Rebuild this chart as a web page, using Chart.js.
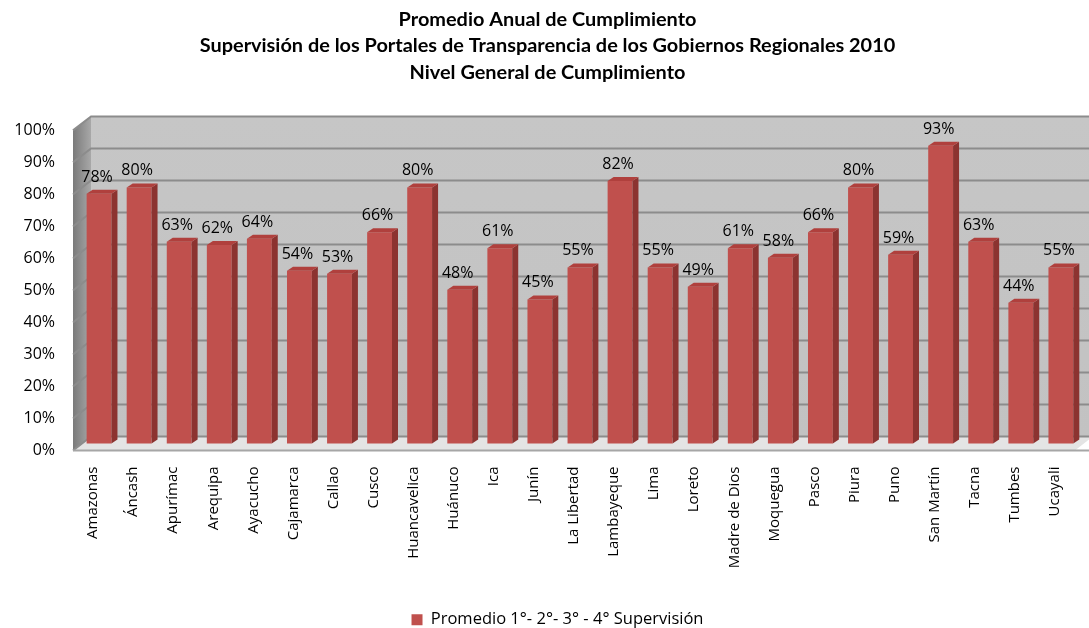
<!DOCTYPE html>
<html><head><meta charset="utf-8">
<script src="https://cdn.jsdelivr.net/npm/chart.js@4"></script>
<style>html,body{margin:0;padding:0;background:#fff;}canvas{display:block;}</style>
</head><body>
<canvas id="c" width="1089" height="628"></canvas>
<script>
const titleLines = [
  'Promedio Anual de Cumplimiento',
  'Supervisión de los Portales de Transparencia de los Gobiernos Regionales 2010',
  'Nivel General de Cumplimiento'
];
const seriesName = 'Promedio 1°- 2°- 3° - 4° Supervisión';
const categories = ['Amazonas','Áncash','Apurímac','Arequipa','Ayacucho','Cajamarca','Callao','Cusco','Huancavelica','Huánuco','Ica','Junín','La Libertad','Lambayeque','Lima','Loreto','Madre de Dios','Moquegua','Pasco','Piura','Puno','San Martín','Tacna','Tumbes','Ucayali'];
const values = [78,80,63,62,64,54,53,66,80,48,61,45,55,82,55,49,61,58,66,80,59,93,63,44,55];
const yMax = 100, yStep = 10;

const DX = 18, DY = -14;      // wall depth
const BDX = 6, BDY = -7;      // bars placed mid-depth
const SIDE = 6, TOPD = -4;    // bar depth

const shiftBlocks = {
  id: 'shiftBlocks',
  afterLayout(chart) {
    const lg = chart.legend, tb = chart.titleBlock;
    if (lg) { lg.left += 16; lg.right += 16; }
    if (tb) { tb.left += 6; tb.right += 6; }
  }
};

const walls = {
  id: 'walls',
  beforeDatasetsDraw(chart) {
    const {ctx, chartArea: {left, right, top, bottom}} = chart;
    const y = chart.scales.y;
    ctx.save();
    let g = ctx.createLinearGradient(0, top + DY, 0, bottom + DY);
    g.addColorStop(0, '#c6c6c6'); g.addColorStop(1, '#c2c2c2');
    ctx.fillStyle = g;
    ctx.fillRect(left + DX, top + DY, right - left, bottom - top);
    g = ctx.createLinearGradient(left, 0, left + DX, 0);
    g.addColorStop(0, '#7a7a7a'); g.addColorStop(1, '#a8a8a8');
    ctx.fillStyle = g;
    ctx.beginPath();
    ctx.moveTo(left, top); ctx.lineTo(left + DX, top + DY);
    ctx.lineTo(left + DX, bottom + DY); ctx.lineTo(left, bottom); ctx.closePath(); ctx.fill();
    ctx.fillStyle = '#e4e4e4';
    ctx.beginPath();
    ctx.moveTo(left, bottom); ctx.lineTo(left + DX, bottom + DY);
    ctx.lineTo(right + DX, bottom + DY); ctx.lineTo(right, bottom); ctx.closePath(); ctx.fill();
    ctx.strokeStyle = '#8c8c8c'; ctx.lineWidth = 2;
    for (let v = 0; v <= yMax; v += yStep) {
      const yy = y.getPixelForValue(v);
      ctx.beginPath();
      ctx.moveTo(left, yy); ctx.lineTo(left + DX, yy + DY); ctx.lineTo(right + DX, yy + DY);
      ctx.stroke();
    }
    ctx.strokeStyle = '#a6a6a6'; ctx.lineWidth = 2;
    ctx.beginPath(); ctx.moveTo(left, bottom); ctx.lineTo(right + DX, bottom); ctx.stroke();
    ctx.restore();
    ctx.save();
    ctx.translate(BDX, BDY);
  },
  afterDatasetsDraw(chart) {
    const ctx = chart.ctx;
    const meta = chart.getDatasetMeta(0);
    meta.data.forEach((bar, i) => {
      const w = bar.width, x = bar.x, yt = bar.y, yb = bar.base;
      ctx.fillStyle = '#8c3330';
      ctx.beginPath();
      ctx.moveTo(x + w / 2, yt); ctx.lineTo(x + w / 2 + SIDE, yt + TOPD);
      ctx.lineTo(x + w / 2 + SIDE, yb + TOPD); ctx.lineTo(x + w / 2, yb); ctx.closePath(); ctx.fill();
      ctx.fillStyle = '#b0403d';
      ctx.beginPath();
      ctx.moveTo(x - w / 2, yt); ctx.lineTo(x - w / 2 + SIDE, yt + TOPD);
      ctx.lineTo(x + w / 2 + SIDE, yt + TOPD); ctx.lineTo(x + w / 2, yt); ctx.closePath(); ctx.fill();
      ctx.fillStyle = '#000';
      ctx.font = '16px "Open Sans"';
      ctx.textAlign = 'center'; ctx.textBaseline = 'alphabetic';
      ctx.fillText(values[i] + '%', x - 2, yt + TOPD - 8);
    });
    ctx.restore();
  }
};

Chart.defaults.font.family = '"Open Sans", sans-serif';
Chart.defaults.color = '#000';

new Chart(document.getElementById('c'), {
  type: 'bar',
  data: {
    labels: categories,
    datasets: [{
      label: seriesName,
      data: values,
      backgroundColor: '#c0504d',
      borderWidth: 0,
      barPercentage: 0.62,
      categoryPercentage: 1,
      clip: false
    }]
  },
  options: {
    responsive: false,
    animation: false,
    layout: { padding: { left: 0, right: 6, top: 0, bottom: -10 } },
    plugins: {
      title: {
        display: true,
        text: titleLines,
        font: { family: 'Lato', weight: 'bold', size: 19.9, lineHeight: 1.33 },
        color: '#000',
        padding: { top: 6, bottom: 45 }
      },
      legend: {
        position: 'bottom',
        labels: { boxWidth: 11, boxHeight: 11, padding: 2, font: { size: 16.5 }, color: '#000' }
      },
      tooltip: { enabled: false }
    },
    scales: {
      y: {
        min: 0, max: yMax,
        ticks: { stepSize: yStep, callback: v => v + '%', font: { size: 16 }, padding: 18, color: '#000' },
        grid: { display: false, drawTicks: false },
        border: { display: false },
        afterFit(s) { s.width = 73; }
      },
      x: {
        ticks: { minRotation: 90, maxRotation: 90, autoSkip: false, font: { size: 15 }, padding: 16, color: '#000' },
        grid: { display: false, drawTicks: false },
        border: { display: false },
        afterFit(s) { s.height = 159; }
      }
    }
  },
  plugins: [shiftBlocks, walls]
});
</script>
</body></html>
